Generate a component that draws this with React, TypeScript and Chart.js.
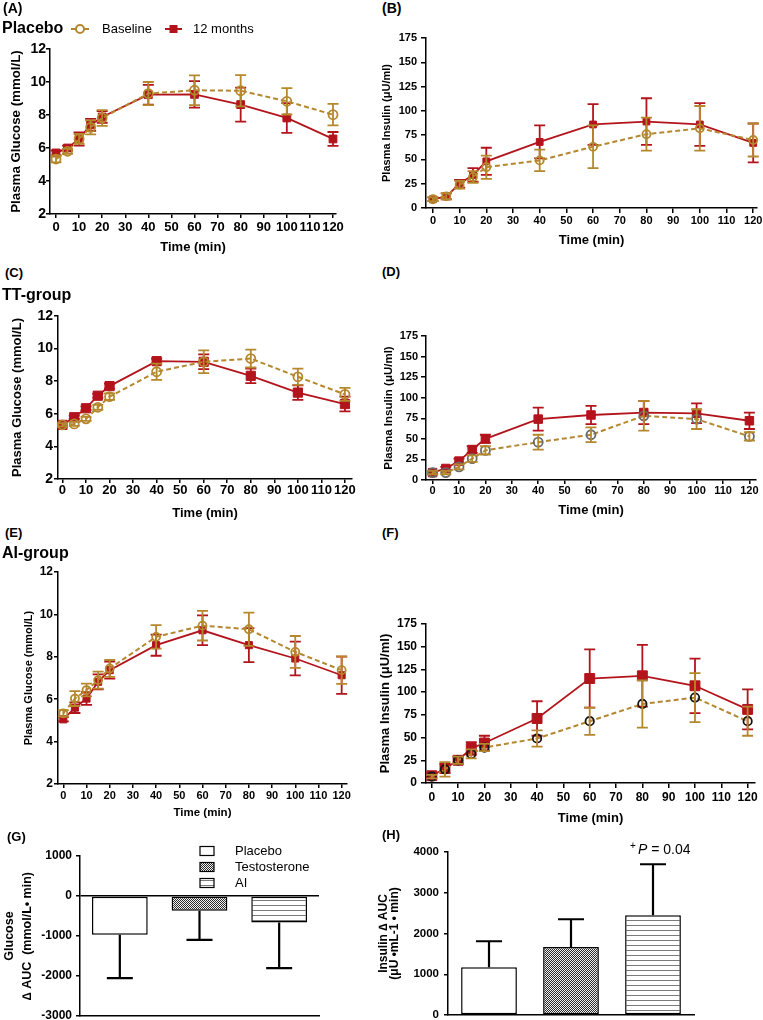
import React, { useEffect, useRef } from "react";
import { Chart, registerables } from "chart.js";

Chart.register(...registerables);

const FONT = "'Liberation Sans', Arial, Helvetica, sans-serif";
Chart.defaults.font.family = FONT;
Chart.defaults.color = "#000";

const GOLD = "#B5882E";
const RED = "#B3141C";

// ---------- DATA ----------
const timePoints = [0, 5, 10, 15, 20, 40, 60, 80, 100, 120];
const xTickValues = [0, 10, 20, 30, 40, 50, 60, 70, 80, 90, 100, 110, 120];

// (A) Placebo glucose
const aBase = [5.33, 5.8, 6.55, 7.25, 7.82, 9.3, 9.5, 9.47, 8.83, 8.02];
const aBaseErr = [0.2, 0.15, 0.3, 0.42, 0.48, 0.7, 0.9, 0.95, 0.8, 0.65];
const a12 = [5.7, 6.0, 6.55, 7.4, 7.88, 9.23, 9.25, 8.63, 7.82, 6.55];
const a12Err = [0.15, 0.15, 0.4, 0.36, 0.35, 0.6, 0.8, 1.03, 0.9, 0.42];

// (B) Placebo insulin
const bBase = [9, 12, 24, 32, 42, 49, 63, 76, 82, 70];
const bBaseErr = [2, 3, 4, 6, 12, 11, 22, 17, 23, 17];
const b12 = [9, 12, 25, 34, 48, 68, 86, 89, 86, 67];
const b12Err = [2, 3, 4, 7, 14, 17, 21, 24, 22, 20];

// (C) TT-group glucose
const cBase = [5.32, 5.38, 5.69, 6.4, 7.05, 8.58, 9.19, 9.39, 8.27, 7.19];
const cBaseErr = [0.1, 0.12, 0.12, 0.15, 0.2, 0.5, 0.7, 0.55, 0.5, 0.4];
const c12 = [5.32, 5.79, 6.34, 7.11, 7.7, 9.23, 9.19, 8.33, 7.3, 6.6];
const c12Err = [0.1, 0.1, 0.12, 0.12, 0.15, 0.15, 0.45, 0.45, 0.45, 0.45];

// (D) TT-group insulin
const dBase = [9, 9, 16, 26, 36, 46, 55, 78, 74, 53];
const dBaseErr = [2, 2, 3, 4, 5, 9, 9, 18, 12, 5];
const d12 = [9, 14, 23, 37, 50, 74, 79, 82, 81, 72];
const d12Err = [2, 2, 3, 4, 5, 14, 11, 14, 12, 10];

// (E) AI-group glucose
const eBase = [5.33, 6.03, 6.43, 6.9, 7.45, 8.94, 9.47, 9.3, 8.23, 7.37];
const eBaseErr = [0.15, 0.35, 0.3, 0.4, 0.4, 0.55, 0.7, 0.78, 0.75, 0.65];
const e12 = [5.05, 5.6, 6.03, 6.82, 7.37, 8.55, 9.25, 8.55, 7.92, 7.13];
const e12Err = [0.1, 0.25, 0.3, 0.35, 0.4, 0.5, 0.7, 0.8, 0.8, 0.88];

// (F) AI-group insulin
const fBase = [7, 15, 25, 32, 39, 49, 68, 87, 94, 68];
const fBaseErr = [2, 8, 4, 5, 4, 9, 15, 26, 27, 16];
const f12 = [8, 16, 25, 38, 44, 71, 115, 118, 107, 81];
const f12Err = [2, 5, 4, 7, 8, 19, 32, 34, 30, 22];

// (G), (H) AUC bars
const groupLabels = ["Placebo", "Testosterone", "AI"];
const gValues = [-970, -370, -665];
const gErr = [1085, 725, 1140];
const hValues = [1170, 1670, 2450];
const hErr = [640, 680, 1250];

// ---------- HELPERS ----------
type Geom = { x0: number; y0: number; x1: number; y1: number; L: number; T: number; R: number; B: number };

const errorBarPlugin = {
  id: "errorBars",
  afterDatasetDraw(chart: any, args: any) {
    const ds: any = chart.data.datasets[args.index];
    if (!ds.errors) return;
    const meta = args.meta;
    const yScale = chart.scales[meta.yAxisID];
    const ctx = chart.ctx;
    ctx.save();
    ctx.strokeStyle = ds.errColor;
    ctx.lineWidth = ds.errWidth ?? 1.8;
    ctx.setLineDash([]);
    const cap = ds.capHalf ?? 5.5;
    meta.data.forEach((el: any, i: number) => {
      const raw = ds.data[i];
      const v = typeof raw === "number" ? raw : raw?.y;
      const e = ds.errors[i];
      if (v == null || e == null) return;
      const x = el.x;
      ctx.beginPath();
      if (ds.errMode === "away") {
        const end = v + Math.sign(v) * e;
        const p1 = yScale.getPixelForValue(v);
        const p2 = yScale.getPixelForValue(end);
        ctx.moveTo(x, p1);
        ctx.lineTo(x, p2);
        ctx.moveTo(x - cap, p2);
        ctx.lineTo(x + cap, p2);
      } else {
        const p1 = yScale.getPixelForValue(v + e);
        const p2 = yScale.getPixelForValue(v - e);
        ctx.moveTo(x, p1);
        ctx.lineTo(x, p2);
        ctx.moveTo(x - cap, p1);
        ctx.lineTo(x + cap, p1);
        ctx.moveTo(x - cap, p2);
        ctx.lineTo(x + cap, p2);
      }
      ctx.stroke();
    });
    ctx.restore();
  },
};

function axisStyle(tickLen: number) {
  return {
    grid: {
      display: true,
      drawOnChartArea: false,
      drawTicks: true,
      tickLength: tickLen,
      color: "#000",
      tickColor: "#000",
      lineWidth: 1.5,
      tickWidth: 1.5,
    },
    border: { display: true, color: "#000", width: 1.5 },
  };
}

function lineConfig(s: any) {
  const g: Geom = s.geom;
  return {
    type: "line",
    data: {
      datasets: [
        {
          label: "Baseline",
          data: timePoints.map((t, i) => ({ x: t, y: s.base[i] })),
          borderColor: GOLD,
          borderWidth: 2,
          borderDash: [5, 3],
          pointStyle: "circle",
          pointRadius: s.circleR,
          pointBorderColor: s.circleBorder,
          pointBackgroundColor: "rgba(255,255,255,0)",
          pointBorderWidth: 1.8,
          fill: false,
          tension: 0,
          clip: false,
          errors: s.baseErr,
          errColor: GOLD,
        },
        {
          label: "12 months",
          data: timePoints.map((t, i) => ({ x: t, y: s.m12[i] })),
          borderColor: RED,
          borderWidth: 1.8,
          pointStyle: "rect",
          pointRadius: s.rectR,
          pointBorderColor: RED,
          pointBackgroundColor: RED,
          pointBorderWidth: 1,
          fill: false,
          tension: 0,
          clip: false,
          errors: s.m12Err,
          errColor: RED,
        },
      ],
    },
    options: {
      responsive: false,
      animation: false,
      devicePixelRatio: 1,
      events: [],
      layout: { padding: { left: 0, top: g.T - g.y0, right: g.x1 - g.R, bottom: 0 } },
      plugins: { legend: { display: false }, tooltip: { enabled: false } },
      scales: {
        x: {
          type: "linear",
          min: s.xMin,
          max: s.xMax,
          afterBuildTicks: (sc: any) => {
            sc.ticks = xTickValues.map((v) => ({ value: v }));
          },
          afterFit: (sc: any) => {
            sc.height = g.y1 - g.B;
            sc.paddingLeft = 0;
            sc.paddingRight = 0;
          },
          ticks: {
            font: { size: s.xTickFont, weight: "bold" },
            color: "#000",
            padding: s.xTickPad,
            maxRotation: 0,
            autoSkip: false,
            callback: (v: any) => String(v),
          },
          ...axisStyle(s.xTickLen),
          title: {
            display: true,
            text: "Time (min)",
            color: "#000",
            font: { size: s.xTitleFont, weight: "bold" },
            padding: { top: 0, bottom: s.xTitlePad },
          },
        },
        y: {
          type: "linear",
          min: s.yMin,
          max: s.yMax,
          afterFit: (sc: any) => {
            sc.width = g.L - g.x0;
            sc.paddingTop = 0;
            sc.paddingBottom = 0;
          },
          ticks: {
            stepSize: s.yStep,
            font: { size: s.yTickFont, weight: "bold" },
            color: "#000",
            padding: s.yTickPad,
            callback: (v: any) => String(v),
          },
          ...axisStyle(s.yTickLen),
          title: {
            display: true,
            text: s.yTitle,
            color: "#000",
            font: s.yTitleFont,
            padding: { top: s.yTitlePad, bottom: 0 },
          },
        },
      },
    },
    plugins: [errorBarPlugin, ...(s.extra ? [s.extra] : [])],
  };
}

function makePattern(kind: string): any {
  const c = document.createElement("canvas");
  const cx = c.getContext("2d")!;
  if (kind === "mesh") {
    c.width = 2;
    c.height = 2;
    cx.fillStyle = "#f2f2f2";
    cx.fillRect(0, 0, 2, 2);
    cx.fillStyle = "#2a2a2a";
    cx.fillRect(0, 0, 1, 1);
    cx.fillRect(1, 1, 1, 1);
  } else {
    c.width = 4;
    c.height = 5;
    cx.fillStyle = "#ffffff";
    cx.fillRect(0, 0, 4, 5);
    cx.fillStyle = "#7a7a7a";
    cx.fillRect(0, 0, 4, 1);
  }
  return cx.createPattern(c, "repeat");
}

function barConfig(s: any) {
  const g: Geom = s.geom;
  const fills = ["#ffffff", makePattern("mesh"), makePattern("lines")];
  return {
    type: "bar",
    data: {
      labels: groupLabels,
      datasets: [
        {
          data: s.values,
          backgroundColor: fills,
          borderColor: "#000",
          borderWidth: 1.5,
          borderSkipped: false,
          barPercentage: s.barPct,
          categoryPercentage: 1,
          errors: s.errors,
          errColor: "#000",
          errMode: "away",
          errWidth: 2.2,
          capHalf: 13,
        },
      ],
    },
    options: {
      responsive: false,
      animation: false,
      devicePixelRatio: 1,
      events: [],
      layout: { padding: { left: 0, top: g.T - g.y0, right: g.x1 - g.R, bottom: 0 } },
      plugins: { legend: { display: false }, tooltip: { enabled: false } },
      scales: {
        x: {
          type: "category",
          offset: true,
          grid: { display: false, drawTicks: false },
          border: { display: true, color: "#000", width: 1.5 },
          ticks: { display: false },
          afterFit: (sc: any) => {
            sc.height = g.y1 - g.B;
            sc.paddingLeft = 0;
            sc.paddingRight = 0;
          },
        },
        y: {
          type: "linear",
          min: s.yMin,
          max: s.yMax,
          afterFit: (sc: any) => {
            sc.width = g.L - g.x0;
            sc.paddingTop = 0;
            sc.paddingBottom = 0;
          },
          ticks: {
            stepSize: 1000,
            font: { size: s.yTickFont, weight: "bold" },
            color: "#000",
            padding: s.yTickPad,
            callback: (v: any) => String(v),
          },
          grid: {
            display: true,
            drawOnChartArea: true,
            drawTicks: true,
            tickLength: 4,
            color: (ctx: any) => (ctx.tick && ctx.tick.value === 0 && s.zeroLine ? "#000" : "rgba(0,0,0,0)"),
            tickColor: "#000",
            lineWidth: 1.5,
            tickWidth: 1.5,
          },
          border: { display: true, color: "#000", width: 1.5 },
          title: {
            display: true,
            text: s.yTitle,
            color: "#000",
            font: s.yTitleFont,
            padding: { top: s.yTitlePad, bottom: 0 },
          },
        },
      },
    },
    plugins: [errorBarPlugin, ...(s.extra ? [s.extra] : [])],
  };
}

// ---------- EXTRA DRAWINGS (legends / annotation) ----------
const legendA = {
  id: "legendA",
  afterDraw(chart: any) {
    const ctx = chart.ctx;
    const y = 14;
    ctx.save();
    ctx.strokeStyle = GOLD;
    ctx.lineWidth = 2;
    ctx.beginPath();
    ctx.moveTo(71, y);
    ctx.lineTo(76, y);
    ctx.moveTo(84, y);
    ctx.lineTo(89, y);
    ctx.stroke();
    ctx.beginPath();
    ctx.arc(80, y, 4, 0, Math.PI * 2);
    ctx.stroke();
    ctx.strokeStyle = RED;
    ctx.beginPath();
    ctx.moveTo(165, y);
    ctx.lineTo(182, y);
    ctx.stroke();
    ctx.fillStyle = RED;
    ctx.fillRect(169.5, y - 4, 8, 8);
    ctx.fillStyle = "#000";
    ctx.font = `13px ${FONT}`;
    ctx.textBaseline = "middle";
    ctx.textAlign = "left";
    ctx.fillText("Baseline", 102, y);
    ctx.fillText("12 months", 193, y);
    ctx.restore();
  },
};

const legendG = {
  id: "legendG",
  afterDraw(chart: any) {
    const ctx = chart.ctx;
    const fills = ["#ffffff", makePattern("mesh"), makePattern("lines")];
    const rows = [11, 27, 43];
    ctx.save();
    ctx.font = `13px ${FONT}`;
    ctx.textBaseline = "middle";
    ctx.textAlign = "left";
    rows.forEach((y, i) => {
      ctx.fillStyle = fills[i];
      ctx.fillRect(200, y - 4.5, 14, 9);
      ctx.strokeStyle = "#000";
      ctx.lineWidth = 1.2;
      ctx.strokeRect(200, y - 4.5, 14, 9);
      ctx.fillStyle = "#000";
      ctx.fillText(groupLabels[i], 235, y);
    });
    ctx.restore();
  },
};

const noteH = {
  id: "noteH",
  afterDraw(chart: any) {
    const ctx = chart.ctx;
    const bar = chart.getDatasetMeta(0).data[2];
    const y = chart.chartArea.top - 2;
    let x = bar.x - 23;
    ctx.save();
    ctx.fillStyle = "#000";
    ctx.textBaseline = "middle";
    ctx.textAlign = "left";
    ctx.font = `10px ${FONT}`;
    ctx.fillText("+", x, y - 4);
    x += 8;
    ctx.font = `italic 14px ${FONT}`;
    ctx.fillText("P", x, y);
    x += ctx.measureText("P").width;
    ctx.font = `14px ${FONT}`;
    ctx.fillText(" = 0.04", x, y);
    ctx.restore();
  },
};

// ---------- PANEL SPECS ----------
const panelA = {
  geom: { x0: 0, y0: 15, x1: 348, y1: 258, L: 50, T: 49, R: 336, B: 214 },
  xMin: -2.6, xMax: 121.3, yMin: 2, yMax: 12, yStep: 2,
  base: aBase, baseErr: aBaseErr, m12: a12, m12Err: a12Err,
  circleBorder: GOLD, circleR: 4.5, rectR: 5.5,
  yTickFont: 14, xTickFont: 13, yTickLen: 4, yTickPad: 0, xTickLen: 4, xTickPad: 2,
  yTitle: "Plasma Glucose (mmol/L)", yTitleFont: { size: 13.3, weight: "bold" }, yTitlePad: 8,
  xTitleFont: 13, xTitlePad: 3, extra: legendA,
};
const panelB = {
  geom: { x0: 380, y0: 28, x1: 763, y1: 252, L: 426, T: 38, R: 758, B: 208 },
  xMin: -2.6, xMax: 121.5, yMin: 0, yMax: 175, yStep: 25,
  base: bBase, baseErr: bBaseErr, m12: b12, m12Err: b12Err,
  circleBorder: GOLD, circleR: 4, rectR: 4.8,
  yTickFont: 11, xTickFont: 11, yTickLen: 5, yTickPad: 4, xTickLen: 5, xTickPad: 1,
  yTitle: "Plasma Insulin (\u03bcU/ml)", yTitleFont: { size: 11, weight: "bold" }, yTitlePad: 0,
  xTitleFont: 13, xTitlePad: 4,
};
const panelC = {
  geom: { x0: 0, y0: 300, x1: 360, y1: 522, L: 58, T: 316, R: 352, B: 479 },
  xMin: -1.9, xMax: 123, yMin: 2, yMax: 12, yStep: 2,
  base: cBase, baseErr: cBaseErr, m12: c12, m12Err: c12Err,
  circleBorder: GOLD, circleR: 4.5, rectR: 6.5,
  yTickFont: 14, xTickFont: 13, yTickLen: 4, yTickPad: 1, xTickLen: 4, xTickPad: 0,
  yTitle: "Plasma Glucose (mmol/L)", yTitleFont: { size: 13, weight: "bold" }, yTitlePad: 10,
  xTitleFont: 13, xTitlePad: 1,
};
const panelD = {
  geom: { x0: 380, y0: 325, x1: 763, y1: 520, L: 426, T: 336, R: 760, B: 480 },
  xMin: -2.5, xMax: 122.5, yMin: 0, yMax: 175, yStep: 25,
  base: dBase, baseErr: dBaseErr, m12: d12, m12Err: d12Err,
  circleBorder: "#6a6a6a", circleR: 4.5, rectR: 6,
  yTickFont: 11, xTickFont: 11, yTickLen: 5, yTickPad: 3, xTickLen: 4, xTickPad: 0,
  yTitle: "Plasma Insulin (\u03bcU/ml)", yTitleFont: { size: 11.5, weight: "bold" }, yTitlePad: 2,
  xTitleFont: 13, xTitlePad: 2,
};
const panelE = {
  geom: { x0: 0, y0: 560, x1: 360, y1: 822, L: 58, T: 572, R: 347, B: 784 },
  xMin: -2.3, xMax: 122.3, yMin: 2, yMax: 12, yStep: 2,
  base: eBase, baseErr: eBaseErr, m12: e12, m12Err: e12Err,
  circleBorder: GOLD, circleR: 4, rectR: 5,
  yTickFont: 12, xTickFont: 11, yTickLen: 4, yTickPad: 1, xTickLen: 4, xTickPad: 1,
  yTitle: "Plasma Glucose (mmol/L)", yTitleFont: { size: 11, weight: "bold" }, yTitlePad: 22,
  xTitleFont: 11.5, xTitlePad: 2,
};
const panelF = {
  geom: { x0: 378, y0: 612, x1: 763, y1: 830, L: 426, T: 624, R: 757, B: 783 },
  xMin: -2.2, xMax: 122.8, yMin: 0, yMax: 175, yStep: 25,
  base: fBase, baseErr: fBaseErr, m12: f12, m12Err: f12Err,
  circleBorder: "#151515", circleR: 4.2, rectR: 7,
  yTickFont: 12, xTickFont: 12, yTickLen: 5, yTickPad: 4, xTickLen: 5, xTickPad: 2,
  yTitle: "Plasma Insulin (\u03bcU/ml)", yTitleFont: { size: 13, weight: "bold" }, yTitlePad: 0,
  xTitleFont: 13, xTitlePad: 4,
};
const panelG = {
  geom: { x0: 0, y0: 840, x1: 330, y1: 1020, L: 80, T: 856, R: 319, B: 1016 },
  values: gValues, errors: gErr, yMin: -3000, yMax: 1000, barPct: 0.7, zeroLine: true,
  yTickFont: 12, yTickPad: 4,
  yTitle: ["Glucose", "\u2206 AUC  (mmol/L\u2022 min)"],
  yTitleFont: { size: 12.5, weight: "bold", lineHeight: 1.45 }, yTitlePad: 0.5,
  extra: legendG,
};
const panelH = {
  geom: { x0: 375, y0: 840, x1: 763, y1: 1020, L: 448, T: 852, R: 694, B: 1015 },
  values: hValues, errors: hErr, yMin: 0, yMax: 4000, barPct: 0.68, zeroLine: false,
  yTickFont: 11.5, yTickPad: 5,
  yTitle: ["Insulin \u2206 AUC", "(\u03bcU \u2022mL-1 \u2022 min)"],
  yTitleFont: { size: 12, weight: "bold", lineHeight: 0.95 }, yTitlePad: 2.5,
  extra: noteH,
};

// ---------- COMPONENTS ----------
function ChartCanvas({ geom, make }: { geom: Geom; make: () => any }) {
  const ref = useRef<HTMLCanvasElement>(null);
  useEffect(() => {
    const chart = new Chart(ref.current as HTMLCanvasElement, make());
    return () => chart.destroy();
  }, []);
  const w = geom.x1 - geom.x0;
  const h = geom.y1 - geom.y0;
  return (
    <canvas
      ref={ref}
      width={w}
      height={h}
      style={{ position: "absolute", left: geom.x0, top: geom.y0, width: w, height: h }}
    />
  );
}

const panelLabels = [
  { text: "(A)", left: 3, cy: 8, size: 14 },
  { text: "Placebo", left: 2, cy: 28, size: 16 },
  { text: "(B)", left: 382, cy: 8, size: 14 },
  { text: "(C)", left: 5, cy: 273, size: 13 },
  { text: "TT-group", left: 2, cy: 295, size: 16 },
  { text: "(D)", left: 382, cy: 272, size: 13 },
  { text: "(E)", left: 5, cy: 533, size: 13 },
  { text: "AI-group", left: 2, cy: 553, size: 16 },
  { text: "(F)", left: 382, cy: 533, size: 13 },
  { text: "(G)", left: 7, cy: 837, size: 13 },
  { text: "(H)", left: 382, cy: 835, size: 13 },
];

export default function App() {
  return (
    <div
      style={{
        position: "absolute",
        left: 0,
        top: 0,
        width: 763,
        height: 1020,
        background: "#fff",
        overflow: "hidden",
        fontFamily: FONT,
        color: "#000",
      }}
    >
      <ChartCanvas geom={panelA.geom} make={() => lineConfig(panelA)} />
      <ChartCanvas geom={panelB.geom} make={() => lineConfig(panelB)} />
      <ChartCanvas geom={panelC.geom} make={() => lineConfig(panelC)} />
      <ChartCanvas geom={panelD.geom} make={() => lineConfig(panelD)} />
      <ChartCanvas geom={panelE.geom} make={() => lineConfig(panelE)} />
      <ChartCanvas geom={panelF.geom} make={() => lineConfig(panelF)} />
      <ChartCanvas geom={panelG.geom} make={() => barConfig(panelG)} />
      <ChartCanvas geom={panelH.geom} make={() => barConfig(panelH)} />
      {panelLabels.map((p) => (
        <div
          key={p.text}
          style={{
            position: "absolute",
            left: p.left,
            top: p.cy - p.size * 0.6,
            fontSize: p.size,
            lineHeight: 1.2,
            fontWeight: "bold",
            whiteSpace: "nowrap",
          }}
        >
          {p.text}
        </div>
      ))}
    </div>
  );
}
